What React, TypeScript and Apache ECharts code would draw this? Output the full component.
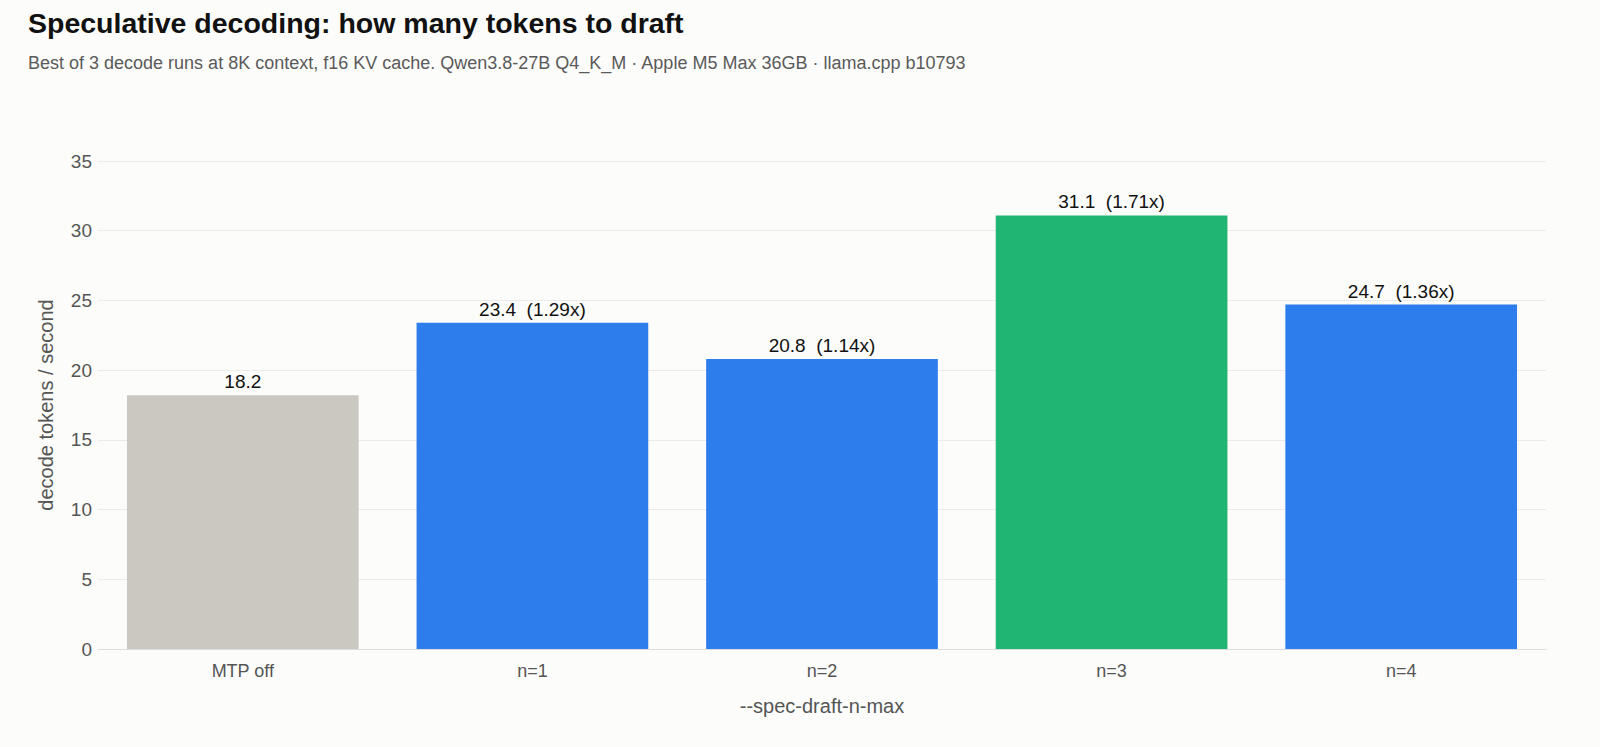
import { useEffect, useRef } from 'react';
import * as echarts from 'echarts';

// data
const categories = ['MTP off', 'n=1', 'n=2', 'n=3', 'n=4'];
const tokensPerSec = [18.2, 23.4, 20.8, 31.1, 24.7];
const speedups = ['', '1.29x', '1.14x', '1.71x', '1.36x'];
const barColors = ['#cac8c0', '#2d7ded', '#2d7ded', '#21b573', '#2d7ded'];

const fontFamily = "'Liberation Sans', Arial, sans-serif";

export default function App() {
    const chartRef = useRef<HTMLDivElement>(null);

    useEffect(() => {
        if (!chartRef.current) return;
        const chart = echarts.init(chartRef.current, null, { renderer: 'svg' });

        const option: echarts.EChartsOption = {
            animation: false,
            backgroundColor: '#fcfcfa',
            textStyle: { fontFamily },
            title: [
                {
                    text: 'Speculative decoding: how many tokens to draft',
                    left: 28,
                    top: 8,
                    padding: 0,
                    textStyle: { fontFamily, fontSize: 28.5, fontWeight: 'bold', color: '#111' }
                },
                {
                    text: 'Best of 3 decode runs at 8K context, f16 KV cache. Qwen3.8-27B Q4_K_M · Apple M5 Max 36GB · llama.cpp b10793',
                    left: 28,
                    top: 54,
                    padding: 0,
                    textStyle: { fontFamily, fontSize: 18, fontWeight: 'normal', color: '#5a5a5a' }
                }
            ],
            grid: { left: 98, right: 54, top: 161, bottom: 98, containLabel: false },
            xAxis: {
                type: 'category',
                data: categories,
                name: '--spec-draft-n-max',
                nameLocation: 'middle',
                nameGap: 47,
                nameTextStyle: { fontFamily, fontSize: 20, color: '#555' },
                axisLine: { lineStyle: { color: '#dddddd' } },
                axisTick: { alignWithLabel: true, length: 4, lineStyle: { color: '#dddddd' } },
                axisLabel: { fontFamily, fontSize: 18, color: '#555', margin: 13 }
            },
            yAxis: {
                type: 'value',
                min: 0,
                max: 35,
                interval: 5,
                name: 'decode tokens / second',
                nameLocation: 'middle',
                nameGap: 42,
                nameTextStyle: { fontFamily, fontSize: 20, color: '#555' },
                axisLine: { show: false },
                axisTick: { show: false },
                axisLabel: { fontFamily, fontSize: 19, color: '#555', margin: 6 },
                splitLine: { lineStyle: { color: '#ebebeb' } }
            },
            series: [
                {
                    type: 'bar',
                    barWidth: '80%',
                    data: tokensPerSec.map((v, i) => ({ value: v, itemStyle: { color: barColors[i] } })),
                    label: {
                        show: true,
                        position: 'top',
                        distance: 4,
                        fontFamily,
                        fontSize: 19,
                        color: '#111',
                        formatter: (p: any) => {
                            const s = speedups[p.dataIndex];
                            return s ? `${p.value.toFixed(1)}  (${s})` : p.value.toFixed(1);
                        }
                    }
                }
            ]
        };

        chart.setOption(option);
        return () => chart.dispose();
    }, []);

    return (
        <div
            ref={chartRef}
            style={{ position: 'absolute', left: 0, top: 0, width: 1600, height: 747 }}
        />
    );
}
